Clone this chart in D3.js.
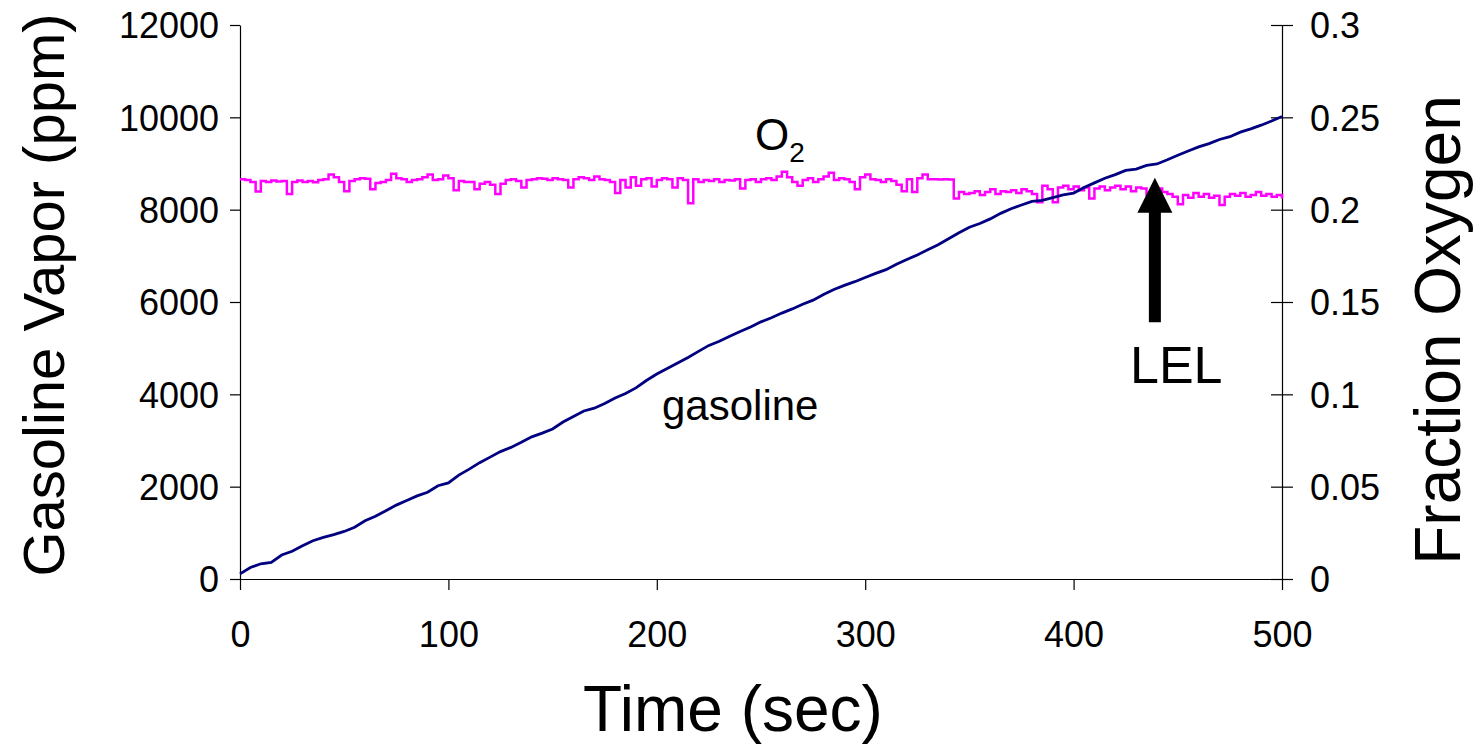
<!DOCTYPE html>
<html>
<head>
<meta charset="utf-8">
<script src="https://cdn.jsdelivr.net/npm/d3@7/dist/d3.min.js"></script>
<style>
  html, body { margin: 0; padding: 0; background: #fff; }
  svg { display: block; font-family: "Liberation Sans", Arial, sans-serif; }
</style>
</head>
<body>
<svg id="chart" width="1473" height="745"></svg>
<script>
// ---------------- DATA ----------------
const xTicks = [0, 100, 200, 300, 400, 500];
const yLeftTicks = [0, 2000, 4000, 6000, 8000, 10000, 12000];
const yRightTicks = [0, 0.05, 0.1, 0.15, 0.2, 0.25, 0.3];
const yRightTickLabels = ["0", "0.05", "0.1", "0.15", "0.2", "0.25", "0.3"];

// gasoline vapor (ppm), sampled every 5 s from 0 to 500 s
const gasolineTimeStep = 5;
const gasolinePpm = [
  110, 250, 330, 360, 520, 600, 720, 830, 900, 960,
  1030, 1120, 1260, 1360, 1480, 1600, 1700, 1800, 1880, 2020,
  2080, 2250, 2380, 2520, 2640, 2760, 2850, 2960, 3080, 3160,
  3250, 3400, 3520, 3640, 3700, 3800, 3920, 4020, 4140, 4300,
  4440, 4560, 4680, 4800, 4930, 5060, 5150, 5260, 5360, 5460,
  5570, 5660, 5760, 5850, 5950, 6040, 6160, 6270, 6360, 6440,
  6530, 6620, 6700, 6820, 6920, 7020, 7130, 7240, 7370, 7500,
  7620, 7700, 7800, 7920, 8020, 8100, 8180, 8200, 8260, 8320,
  8360, 8480, 8580, 8680, 8760, 8850, 8880, 8960, 8990, 9080,
  9180, 9270, 9360, 9430, 9520, 9580, 9680, 9750, 9830, 9920,
  10020
];

// fraction oxygen, sampled every 2.5 s from 0 to 500 s
const oxygenTimeStep = 2.5;
const oxygenFraction = [
  .2165, .2160, .2150, .2098, .2155, .2150, .2158, .2152, .2155, .2085, .2150, .2158, .2150, .2155, .2148, .2160, .2165, .2190, .2175, .2150,
  .2100, .2155, .2165, .2170, .2168, .2110, .2145, .2150, .2160, .2195, .2170, .2165, .2150, .2160, .2165, .2175, .2190, .2160, .2165, .2185,
  .2170, .2105, .2155, .2150, .2150, .2110, .2140, .2150, .2135, .2085, .2140, .2160, .2165, .2155, .2120, .2160, .2165, .2170, .2168, .2160,
  .2170, .2165, .2160, .2120, .2165, .2175, .2170, .2160, .2180, .2165, .2160, .2150, .2090, .2160, .2120, .2175, .2130, .2165, .2170, .2125,
  .2160, .2170, .2165, .2120, .2170, .2160, .2035, .2165, .2150, .2160, .2155, .2165, .2150, .2160, .2158, .2165, .2115, .2160, .2165, .2150,
  .2165, .2170, .2160, .2180, .2205, .2175, .2150, .2130, .2160, .2170, .2150, .2165, .2180, .2200, .2160, .2170, .2165, .2150, .2110, .2175,
  .2190, .2165, .2160, .2150, .2165, .2155, .2135, .2100, .2165, .2095, .2170, .2190, .2165, .2165, .2164, .2165, .2163, .2060, .2095, .2085,
  .2090, .2100, .2080, .2095, .2110, .2085, .2100, .2095, .2105, .2090, .2110, .2100, .2085, .2040, .2130, .2110, .2040, .2120, .2130, .2110,
  .2125, .2105, .2120, .2060, .2115, .2125, .2105, .2120, .2130, .2110, .2125, .2100, .2120, .2115, .2080, .2105, .2115, .2095, .2085, .2070,
  .2030, .2080, .2065, .2090, .2070, .2085, .2065, .2075, .2025, .2070, .2085, .2075, .2090, .2070, .2080, .2095, .2075, .2085, .2070, .2080,
  .2060
];

// annotations
const lelTime = 439;
const lelArrowFromPpm = 5560;
const lelArrowToPpm = 8690;

// ---------------- CHART ----------------
const svg = d3.select("#chart");
const x = d3.scaleLinear().domain([0, 500]).range([240, 1282]);
const yL = d3.scaleLinear().domain([0, 12000]).range([579, 25]);
const yR = d3.scaleLinear().domain([0, 0.3]).range([579, 25]);

const gasData = gasolinePpm.map((v, i) => ({ t: i * gasolineTimeStep, v }));
const oxyData = oxygenFraction.map((v, i) => ({ t: i * oxygenTimeStep, v }));

// axes
const gx = svg.append("g").attr("transform", `translate(0,${yL(0)})`)
  .call(d3.axisBottom(x).tickValues(xTicks).tickSizeInner(11).tickSizeOuter(0).tickFormat(d3.format("d")));
gx.selectAll("text").attr("y", 68).attr("dy", 0).style("font-size", "36px").attr("fill", "#000");

const gyl = svg.append("g").attr("transform", `translate(${x(0)},0)`)
  .call(d3.axisLeft(yL).tickValues(yLeftTicks).tickSizeInner(10).tickSizeOuter(0).tickPadding(11).tickFormat(d3.format("d")));
gyl.selectAll("text").attr("dy", "0.36em").style("font-size", "36px").attr("fill", "#000");

const gyr = svg.append("g").attr("transform", `translate(${x(500)},0)`)
  .call(d3.axisRight(yR).tickValues(yRightTicks).tickSizeInner(11).tickSizeOuter(0).tickPadding(17)
    .tickFormat((d, i) => yRightTickLabels[i]));
gyr.selectAll(".tick line").attr("x1", -11);
gyr.selectAll("text").attr("dy", "0.36em").style("font-size", "36px").attr("fill", "#000");

svg.selectAll(".domain, .tick line").attr("stroke", "#000").attr("stroke-width", 1.2);

// lines
svg.append("path").datum(oxyData)
  .attr("fill", "none").attr("stroke", "#ff00ff").attr("stroke-width", 2.5)
  .attr("d", d3.line().curve(d3.curveStepAfter).x(d => x(d.t)).y(d => yR(d.v)));

svg.append("path").datum(gasData)
  .attr("fill", "none").attr("stroke", "#000080").attr("stroke-width", 2.8)
  .attr("d", d3.line().x(d => x(d.t)).y(d => yL(d.v)));

// arrow (LEL)
const ax = x(lelTime), yTip = yL(lelArrowToPpm), yBot = yL(lelArrowFromPpm);
const headLen = 35, headHalf = 17.5, shaftHalf = 6;
svg.append("path")
  .attr("fill", "#000")
  .attr("d", `M${ax},${yTip} L${ax + headHalf},${yTip + headLen} L${ax + shaftHalf},${yTip + headLen}
              L${ax + shaftHalf},${yBot} L${ax - shaftHalf},${yBot} L${ax - shaftHalf},${yTip + headLen}
              L${ax - headHalf},${yTip + headLen} Z`);

// text labels
svg.append("text").attr("x", 1130).attr("y", 383).style("font-size", "52px").text("LEL");
svg.append("text").attr("x", 662).attr("y", 420).style("font-size", "42px").text("gasoline");
const o2 = svg.append("text").attr("x", 755).attr("y", 150).style("font-size", "44px");
o2.append("tspan").text("O");
o2.append("tspan").attr("dy", 12).style("font-size", "28px").text("2");

// axis titles
svg.append("text").attr("x", 733).attr("y", 731).attr("text-anchor", "middle")
  .style("font-size", "64px").text("Time (sec)");
svg.append("text").attr("transform", "translate(64,295) rotate(-90)").attr("text-anchor", "middle")
  .style("font-size", "58px").text("Gasoline Vapor (ppm)");
svg.append("text").attr("transform", "translate(1460,330) rotate(-90)").attr("text-anchor", "middle")
  .style("font-size", "64px").text("Fraction Oxygen");
</script>
</body>
</html>
